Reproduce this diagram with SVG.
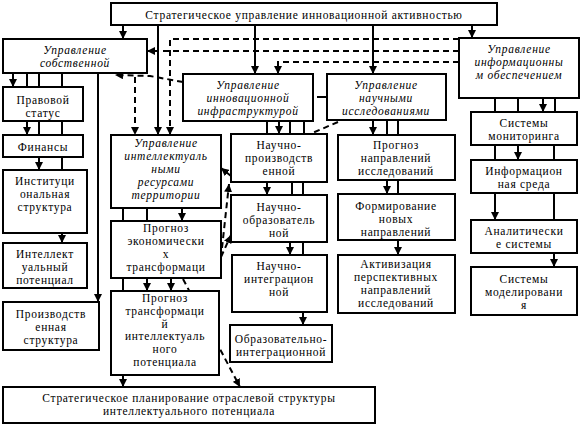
<svg xmlns="http://www.w3.org/2000/svg" width="582" height="427" viewBox="0 0 582 427">
<style>
rect{fill:#fff;stroke:#000;stroke-width:2}
text{font-family:"Liberation Serif","Times New Roman",serif;font-size:11.5px;letter-spacing:0.7px;text-anchor:middle;fill:#000}
.i{font-style:italic}
.c{fill:none;stroke:#000;stroke-width:2}
.d{fill:none;stroke:#000;stroke-width:2;stroke-dasharray:6 4}
.ar{marker-end:url(#a)}
</style>
<defs>
<marker id="a" viewBox="0 0 8 8" refX="8" refY="4" markerWidth="8" markerHeight="8" markerUnits="userSpaceOnUse" orient="auto"><path d="M0,0L8,4L0,8z" fill="#000"/></marker>
</defs>
<rect x="0" y="0" width="582" height="427" style="fill:#fff;stroke:none"/>
<g id="connectors">
<path class="c ar" d="M123 25V39"/>
<path class="c ar" d="M158 25V135"/>
<path class="c ar" d="M255 25V74"/>
<path class="c ar" d="M373 25V74"/>
<path class="c ar" d="M472 25V38"/>
<path class="d ar" d="M459 39H170V135"/>
<path class="d ar" d="M459 51H147"/>
<path class="d ar" d="M459 62H278V74"/>
<path class="d ar" d="M183 82L150 76L115 75"/>
<path class="d ar" d="M135 77V135"/>
<path class="c" d="M317 97H327"/>
<path class="d" d="M338 122L310 134"/>
<path class="c ar" d="M13 73V87"/>
<path class="c" d="M27 73V87M39 73V87M62 73V87"/>
<path class="c ar" d="M98 73V302"/>
<path class="c ar" d="M27 121V135"/>
<path class="c" d="M39 121V135M62 121V135"/>
<path class="c ar" d="M39 157V170"/>
<path class="c" d="M62 157V170"/>
<path class="c ar" d="M62 233V243"/>
<path class="c ar" d="M182 208V221"/>
<path class="c" d="M123 208V221M147 208V221"/>
<path class="c ar" d="M147 278V291"/>
<path class="c ar" d="M171 278V291"/>
<path class="c" d="M123 278V291"/>
<path class="c ar" d="M123 375V387"/>
<path class="d ar" d="M183 279L240 387"/>
<path class="c ar" d="M279 121V134"/>
<path class="c" d="M267 121V134M290 121V134M304 121V134"/>
<path class="c ar" d="M267 182V195"/>
<path class="c" d="M292 182V195M303 182V195"/>
<path class="c ar" d="M290 242V255"/>
<path class="c" d="M303 242V255"/>
<path class="c ar" d="M303 312V325"/>
<path class="d ar" d="M221 257L231 235"/>
<path class="d ar" d="M222 248L229 184"/>
<path class="d ar" d="M231 176L221 168"/>
<path class="c ar" d="M373 120V135"/>
<path class="c" d="M387 120V135M398 120V135"/>
<path class="c ar" d="M387 180V194"/>
<path class="c" d="M398 180V194"/>
<path class="c ar" d="M398 240V255"/>
<path class="c ar" d="M543 98V112"/>
<path class="c" d="M495 98V112M518 98V112M555 98V112"/>
<path class="c ar" d="M518 145V160"/>
<path class="c" d="M495 145V160M554 145V160"/>
<path class="c ar" d="M495 193V220"/>
<path class="c" d="M554 193V220"/>
<path class="c ar" d="M554 253V267"/>
</g>
<g id="n-top"><rect x="111" y="3" width="386" height="22"/><text x="304" y="19">Стратегическое управление инновационной активностью</text></g>
<g id="n-own"><rect x="3" y="39" width="144" height="34"/><text class="i" x="75" y="53.5">Управление</text><text class="i" x="75" y="66.5">собственной</text></g>
<g id="n-info"><rect x="459" y="38" width="120" height="60"/><text class="i" x="519" y="53">Управление</text><text class="i" x="519" y="66">информационны</text><text class="i" x="519" y="79">м обеспечением</text></g>
<g id="n-infra"><rect x="183" y="74" width="130" height="47"/><text class="i" x="248" y="89">Управление</text><text class="i" x="248" y="102">инновационной</text><text class="i" x="248" y="115">инфраструктурой</text></g>
<g id="n-sci"><rect x="327" y="74" width="119" height="46"/><text class="i" x="386" y="89">Управление</text><text class="i" x="386" y="102">научными</text><text class="i" x="386" y="115">исследованиями</text></g>
<g id="n-legal"><rect x="3" y="87" width="80" height="34"/><text x="43" y="103.5">Правовой</text><text x="43" y="116.5">статус</text></g>
<g id="n-fin"><rect x="3" y="135" width="80" height="22"/><text x="43" y="151">Финансы</text></g>
<g id="n-inst"><rect x="3" y="170" width="84" height="63"/><text x="45" y="185">Институци</text><text x="45" y="198">ональная</text><text x="45" y="211">структура</text></g>
<g id="n-intpot"><rect x="3" y="243" width="84" height="45"/><text x="45" y="258">Интеллект</text><text x="45" y="271">уальный</text><text x="45" y="284">потенциал</text></g>
<g id="n-prod"><rect x="3" y="302" width="96" height="48"/><text x="51" y="318">Производств</text><text x="51" y="331">енная</text><text x="51" y="344">структура</text></g>
<g id="n-intres"><rect x="111" y="135" width="110" height="73"/><text class="i" x="166" y="147">Управление</text><text class="i" x="166" y="160">интеллектуаль</text><text class="i" x="166" y="173">ными</text><text class="i" x="166" y="186">ресурсами</text><text class="i" x="166" y="199">территории</text></g>
<g id="n-econ"><rect x="111" y="221" width="110" height="57"/><text x="166" y="232">Прогноз</text><text x="166" y="245">экономически</text><text x="166" y="258">х</text><text x="166" y="271">трансформаци</text></g>
<g id="n-trans"><rect x="111" y="291" width="108" height="84"/><text x="165" y="302">Прогноз</text><text x="165" y="314.8">трансформаци</text><text x="165" y="327.6">й</text><text x="165" y="340.4">интеллектуаль</text><text x="165" y="353.2">ного</text><text x="165" y="366">потенциала</text></g>
<g id="n-plan"><rect x="3" y="387" width="372" height="36"/><text x="189" y="401.5">Стратегическое планирование отраслевой структуры</text><text x="189" y="414.5">интеллектуального потенциала</text></g>
<g id="n-np"><rect x="231" y="134" width="96" height="48"/><text x="279" y="149">Научно-</text><text x="279" y="162">производств</text><text x="279" y="175">енной</text></g>
<g id="n-no"><rect x="231" y="195" width="96" height="47"/><text x="279" y="211">Научно-</text><text x="279" y="224">образователь</text><text x="279" y="237">ной</text></g>
<g id="n-ni"><rect x="232" y="255" width="95" height="57"/><text x="279" y="270">Научно-</text><text x="279" y="283">интеграцион</text><text x="279" y="296">ной</text></g>
<g id="n-oi"><rect x="230" y="325" width="102" height="37"/><text x="281" y="342.5">Образовательно-</text><text x="281" y="355.5">интеграционной</text></g>
<g id="n-pn"><rect x="338" y="135" width="117" height="45"/><text x="396" y="149">Прогноз</text><text x="396" y="162">направлений</text><text x="396" y="175">исследований</text></g>
<g id="n-fn"><rect x="338" y="194" width="117" height="46"/><text x="396" y="210">Формирование</text><text x="396" y="223">новых</text><text x="396" y="236">направлений</text></g>
<g id="n-ap"><rect x="338" y="255" width="117" height="58"/><text x="396" y="268">Активизация</text><text x="396" y="281">перспективных</text><text x="396" y="294">направлений</text><text x="396" y="307">исследований</text></g>
<g id="n-mon"><rect x="471" y="112" width="106" height="33"/><text x="524" y="126.5">Системы</text><text x="524" y="139.5">мониторинга</text></g>
<g id="n-env"><rect x="471" y="160" width="106" height="33"/><text x="524" y="175">Информацион</text><text x="524" y="188">ная среда</text></g>
<g id="n-an"><rect x="471" y="220" width="106" height="33"/><text x="524" y="234.5">Аналитически</text><text x="524" y="247.5">е системы</text></g>
<g id="n-mod"><rect x="471" y="267" width="106" height="48"/><text x="524" y="283">Системы</text><text x="524" y="296">моделировани</text><text x="524" y="309">я</text></g>
</svg>
